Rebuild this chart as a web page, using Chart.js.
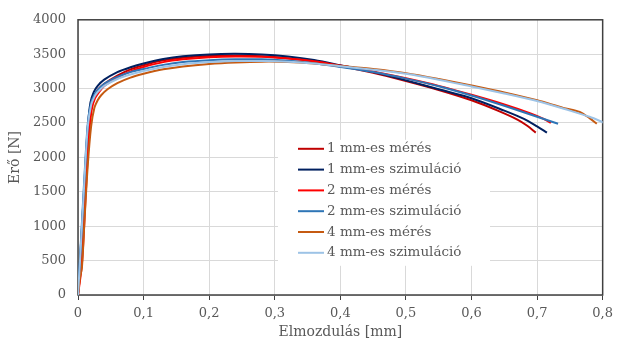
<!DOCTYPE html>
<html lang="hu">
<head>
    <meta charset="UTF-8">
    <title>Erő - elmozdulás</title>
    <script src="https://cdn.jsdelivr.net/npm/chart.js"></script>
    <style>
        html, body { margin: 0; padding: 0; background: #fff; }
        #wrap { width: 619px; height: 341px; }
    </style>
</head>
<body>
    <div id="wrap"><canvas id="chart" width="619" height="341"></canvas></div>

    <script>
        // --- data ---
        const labels = ['1 mm-es mérés', '1 mm-es szimuláció', '2 mm-es mérés',
                        '2 mm-es szimuláció', '4 mm-es mérés', '4 mm-es szimuláció'];
        const colors = ['#C00000', '#002060', '#FF0000', '#2E75B6', '#C55A11', '#9DC3E6'];

        const x1mMeres = [0, 0.005, 0.01, 0.015, 0.02, 0.025, 0.03, 0.04, 0.06, 0.08, 0.1, 0.13, 0.16, 0.2, 0.24, 0.28, 0.32, 0.36, 0.4, 0.45, 0.5, 0.55, 0.6, 0.64, 0.67, 0.685, 0.698];
        const y1mMeres = [0, 500, 1500, 2300, 2700, 2880, 2980, 3070, 3190, 3280, 3340, 3410, 3450, 3475, 3482, 3470, 3440, 3395, 3330, 3230, 3110, 2980, 2830, 2680, 2550, 2460, 2360];

        const x1mSzim = [0, 0.004, 0.01, 0.015, 0.019, 0.024, 0.03, 0.04, 0.06, 0.08, 0.1, 0.13, 0.16, 0.2, 0.24, 0.28, 0.32, 0.36, 0.4, 0.45, 0.5, 0.55, 0.6, 0.65, 0.68, 0.7, 0.715];
        const y1mSzim = [0, 650, 1650, 2450, 2800, 2950, 3040, 3130, 3240, 3310, 3365, 3430, 3470, 3497, 3505, 3495, 3465, 3415, 3340, 3240, 3120, 2990, 2860, 2680, 2560, 2450, 2360];

        const x2mMeres = [0, 0.006, 0.012, 0.017, 0.021, 0.026, 0.032, 0.04, 0.06, 0.08, 0.1, 0.13, 0.16, 0.2, 0.24, 0.28, 0.32, 0.36, 0.4, 0.45, 0.5, 0.55, 0.6, 0.65, 0.69, 0.71, 0.721];
        const y2mMeres = [0, 450, 1500, 2350, 2700, 2860, 2950, 3040, 3160, 3250, 3315, 3385, 3425, 3455, 3467, 3462, 3437, 3397, 3335, 3250, 3150, 3040, 2910, 2770, 2640, 2560, 2500];

        const x2mSzim = [0, 0.004, 0.01, 0.015, 0.02, 0.025, 0.03, 0.04, 0.06, 0.08, 0.1, 0.13, 0.16, 0.2, 0.24, 0.28, 0.32, 0.36, 0.4, 0.45, 0.5, 0.55, 0.6, 0.65, 0.7, 0.732];
        const y2mSzim = [0, 700, 1750, 2500, 2800, 2910, 2980, 3070, 3170, 3240, 3285, 3345, 3385, 3412, 3425, 3425, 3405, 3370, 3315, 3240, 3145, 3035, 2900, 2750, 2590, 2490];

        const x4mMeres = [0, 0.003, 0.006, 0.01, 0.015, 0.02, 0.025, 0.03, 0.035, 0.045, 0.06, 0.08, 0.1, 0.13, 0.16, 0.2, 0.24, 0.28, 0.32, 0.36, 0.4, 0.45, 0.5, 0.55, 0.6, 0.65, 0.7, 0.74, 0.765, 0.78, 0.791];
        const y4mMeres = [0, 250, 400, 1100, 1900, 2450, 2720, 2830, 2900, 2990, 3080, 3160, 3215, 3280, 3322, 3358, 3380, 3392, 3388, 3365, 3330, 3285, 3225, 3140, 3045, 2945, 2830, 2720, 2660, 2570, 2490];

        const x4mSzim = [0, 0.004, 0.01, 0.015, 0.02, 0.025, 0.03, 0.04, 0.06, 0.08, 0.1, 0.13, 0.16, 0.2, 0.24, 0.28, 0.32, 0.36, 0.4, 0.45, 0.5, 0.55, 0.6, 0.65, 0.7, 0.75, 0.78, 0.803];
        const y4mSzim = [0, 650, 1700, 2450, 2760, 2880, 2950, 3040, 3140, 3205, 3255, 3315, 3355, 3385, 3400, 3402, 3392, 3365, 3325, 3275, 3215, 3130, 3030, 2930, 2820, 2680, 2590, 2500];

        const seriesX = [x1mMeres, x1mSzim, x2mMeres, x2mSzim, x4mMeres, x4mSzim];
        const seriesY = [y1mMeres, y1mSzim, y2mMeres, y2mSzim, y4mMeres, y4mSzim];

        const FONT = "'DejaVu Serif', 'Liberation Serif', serif";
        const TEXT = '#595959';

        function zip(xs, ys) {
            return xs.map((x, i) => ({ x: x, y: ys[i] }));
        }

        // frame around the plot area
        const frame = {
            id: 'frame',
            beforeDatasetsDraw(chart) {
                const a = chart.chartArea, c = chart.ctx;
                c.save();
                c.strokeStyle = '#404040';
                c.lineWidth = 1.5;
                c.strokeRect(a.left, a.top, a.right - a.left, a.bottom - a.top);
                c.restore();
            }
        };

        // legend inside the plot, white box
        const boxLegend = {
            id: 'boxLegend',
            afterDraw(chart) {
                const c = chart.ctx, a = chart.chartArea;
                const bx = a.left + 200, by = a.top + 120;
                c.save();
                c.fillStyle = '#fff';
                c.fillRect(bx, by, 212, 126);
                c.font = '13.5px ' + FONT;
                c.textBaseline = 'middle';
                chart.data.datasets.forEach((ds, i) => {
                    const y = by + 9 + i * 20.8;
                    c.strokeStyle = ds.borderColor;
                    c.lineWidth = 2;
                    c.beginPath();
                    c.moveTo(bx + 20, y);
                    c.lineTo(bx + 46, y);
                    c.stroke();
                    c.fillStyle = TEXT;
                    c.fillText(ds.label, bx + 49, y);
                });
                c.restore();
            }
        };

        new Chart(document.getElementById('chart'), {
            type: 'scatter',
            data: {
                datasets: labels.map((l, i) => ({
                    label: l,
                    data: zip(seriesX[i], seriesY[i]),
                    showLine: true,
                    borderColor: colors[i],
                    backgroundColor: colors[i],
                    borderWidth: 2,
                    pointRadius: 0,
                    tension: 0.3,
                    order: labels.length - i   // later series on top, like the original
                }))
            },
            options: {
                responsive: false,
                animation: false,
                layout: { padding: { top: 17, right: 14, left: 0, bottom: 0 } },
                plugins: {
                    legend: { display: false },
                    tooltip: { enabled: false }
                },
                scales: {
                    x: {
                        type: 'linear',
                        min: 0, max: 0.8,
                        afterFit(s) { s.height = 46; },
                        ticks: {
                            stepSize: 0.1,
                            color: TEXT,
                            font: { family: FONT, size: 13 },
                            padding: 6,
                            callback: v => v === 0 ? '0' : v.toFixed(1).replace('.', ',')
                        },
                        grid: { color: '#d9d9d9', tickLength: 5, tickColor: '#404040' },
                        border: { display: false },
                        title: {
                            display: true,
                            text: 'Elmozdulás [mm]',
                            color: TEXT,
                            font: { family: FONT, size: 14 },
                            padding: { top: 0, bottom: 0 }
                        }
                    },
                    y: {
                        min: 0, max: 4000,
                        afterFit(s) { s.width = 78; },
                        ticks: {
                            stepSize: 500,
                            color: TEXT,
                            font: { family: FONT, size: 13 },
                            padding: 12,
                            callback: v => String(v)
                        },
                        grid: { color: '#d9d9d9', drawTicks: false },
                        border: { display: false },
                        title: {
                            display: true,
                            text: 'Erő [N]',
                            color: TEXT,
                            font: { family: FONT, size: 14 },
                            padding: { top: 7, bottom: 0 }
                        }
                    }
                }
            },
            plugins: [frame, boxLegend]
        });
    </script>
</body>
</html>
